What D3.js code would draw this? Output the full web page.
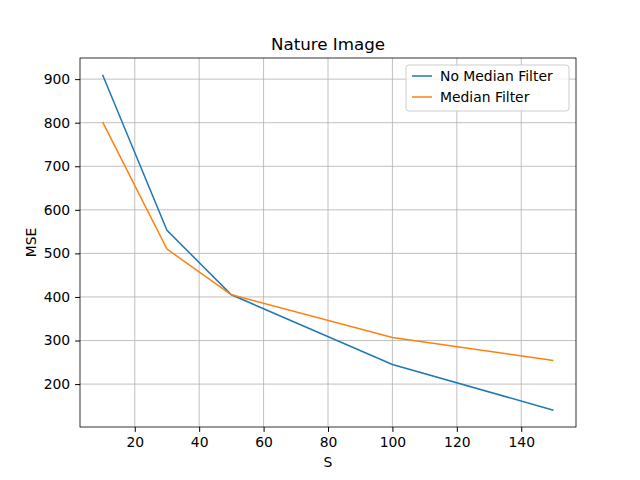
<!DOCTYPE html>
<html><head><meta charset="utf-8">
<script src="https://cdn.jsdelivr.net/npm/d3@7"></script>
<style>body{margin:0;background:#fff}text{font-family:"DejaVu Sans",sans-serif}</style>
</head><body>
<svg id="chart" width="640" height="480"></svg>
<script>
var sValues = [10, 30, 50, 100, 150];
var noMedian = [910, 553, 405, 245, 140];
var withMedian = [802, 510, 405, 307, 254];
var seriesNames = ['No Median Filter', 'Median Filter'];
var colors = ['#1f77b4', '#ff7f0e'];

var svg = d3.select('#chart');
var pLeft = 80, pRight = 576, pTop = 58, pBottom = 427;

var x = d3.scaleLinear().domain([3, 157]).range([pLeft, pRight]);
var y = d3.scaleLinear().domain([101.5, 948.5]).range([pBottom, pTop]);

// grid
svg.append('g').selectAll('line').data(d3.range(20, 141, 20)).enter().append('line')
	.attr('x1', function(d){ return x(d) }).attr('x2', function(d){ return x(d) })
	.attr('y1', pTop).attr('y2', pBottom).attr('stroke', '#b0b0b0').attr('stroke-width', 0.8);
svg.append('g').selectAll('line').data(d3.range(200, 901, 100)).enter().append('line')
	.attr('y1', function(d){ return y(d) }).attr('y2', function(d){ return y(d) })
	.attr('x1', pLeft).attr('x2', pRight).attr('stroke', '#b0b0b0').attr('stroke-width', 0.8);

var xAxis = svg.append('g').attr('transform', 'translate(0,' + pBottom + ')')
	.call(d3.axisBottom(x).tickValues(d3.range(20, 141, 20)).tickSize(4.9).tickPadding(4.9));
var yAxis = svg.append('g').attr('transform', 'translate(' + pLeft + ',0)')
	.call(d3.axisLeft(y).tickValues(d3.range(200, 901, 100)).tickSize(4.9).tickPadding(4.9));
[xAxis, yAxis].forEach(function(a){
	a.select('.domain').remove();
	a.selectAll('text').attr('font-size', 13.9).attr('fill', '#000');
});

svg.append('rect').attr('x', pLeft).attr('y', pTop).attr('width', pRight - pLeft).attr('height', pBottom - pTop)
	.attr('fill', 'none').attr('stroke', '#000').attr('stroke-width', 0.8);

var line = d3.line().x(function(d){ return x(d[0]) }).y(function(d){ return y(d[1]) });
[noMedian, withMedian].forEach(function(vals, i){
	svg.append('path').datum(sValues.map(function(s, j){ return [s, vals[j]] }))
		.attr('d', line).attr('fill', 'none').attr('stroke', colors[i]).attr('stroke-width', 1.5);
});

svg.append('text').attr('x', (pLeft + pRight) / 2).attr('y', 50).attr('text-anchor', 'middle')
	.attr('font-size', 16.7).text('Nature Image');
svg.append('text').attr('x', (pLeft + pRight) / 2).attr('y', 467).attr('text-anchor', 'middle')
	.attr('font-size', 13.9).text('S');
svg.append('text').attr('transform', 'translate(36,' + ((pTop + pBottom) / 2) + ') rotate(-90)')
	.attr('text-anchor', 'middle').attr('font-size', 13.9).text('MSE');

// legend
var lg = svg.append('g').attr('transform', 'translate(406,65)');
lg.append('rect').attr('width', 163).attr('height', 46).attr('rx', 3)
	.attr('fill', '#fff').attr('fill-opacity', 0.8).attr('stroke', '#ccc');
seriesNames.forEach(function(n, i){
	var yy = 11 + i * 21;
	lg.append('line').attr('x1', 6).attr('x2', 26).attr('y1', yy).attr('y2', yy)
		.attr('stroke', colors[i]).attr('stroke-width', 1.5);
	lg.append('text').attr('x', 34).attr('y', yy + 5).attr('font-size', 13.9).text(n);
});
</script>
</body></html>
